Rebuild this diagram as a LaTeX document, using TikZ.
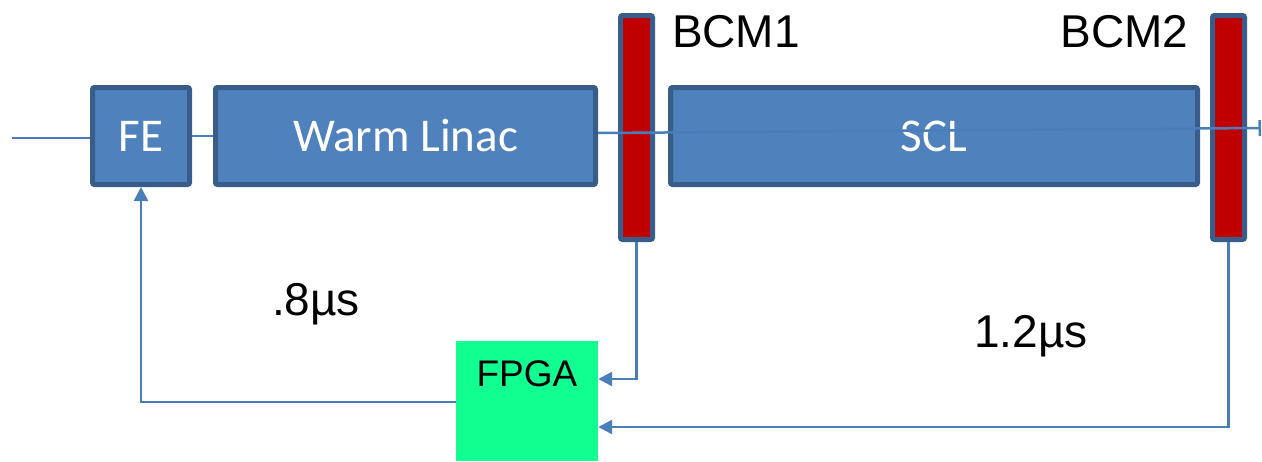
\documentclass[tikz,border=0pt]{standalone}
\usepackage{fontspec}
\setmainfont{Liberation Sans}
\newfontfamily\boxfont{Carlito}
\usetikzlibrary{arrows.meta}

\definecolor{boxfill}{HTML}{4F81BD}
\definecolor{boxedge}{HTML}{385D8A}
\definecolor{monred}{HTML}{C00000}
\definecolor{wirecol}{HTML}{4A7EBB}
\definecolor{fpgagreen}{RGB}{16,255,144}

\begin{document}
\begin{tikzpicture}[x=1pt,y=-1pt,
  section/.style={draw=boxedge, fill=boxfill, line width=5pt, rounded corners=2pt,
    inner sep=0pt, text=white, font=\boxfont\fontsize{47}{50}\selectfont},
  monitor/.style={draw=boxedge, fill=monred, line width=5pt, rounded corners=2pt,
    inner sep=0pt, minimum width=32pt, minimum height=224pt},
  logic/.style={fill=fpgagreen, inner sep=0pt, minimum width=142pt, minimum height=120pt},
  wire/.style={draw=wirecol, line width=2.5pt},
  feed/.style={wire, -{Triangle[length=14pt,width=14pt]}},
  tag/.style={font=\fontsize{46}{50}\selectfont, text=black, inner sep=0pt, anchor=base}
]
\useasboundingbox (0,0) rectangle (1262,461);

% accelerator sections
\node[section, minimum width=97pt, minimum height=97pt] (fe) at (141,136) {FE};
\node[section, minimum width=380pt, minimum height=97pt] (wl) at (405.5,136) {Warm Linac};
\node[section, minimum width=527pt, minimum height=97pt] (scl) at (934,136) {SCL};

% beam current monitors
\node[monitor] (bcm1) at (636.5,127.5) {};
\node[monitor] (bcm2) at (1228.5,127.5) {};
\node[tag] (bcm1lbl) at (736,47) {BCM1};
\node[tag] (bcm2lbl) at (1124.5,47) {BCM2};

% FPGA
\node[logic] (fpga) at (527,401) {};
\node[font=\fontsize{37}{40}\selectfont, inner sep=0pt] (fpgatext) at (527,373.7) {FPGA};

% latency labels
\node[tag] (t1) at (316,315) {.8µs};
\node[tag] (t2) at (1031,347) {1.2µs};

% beam line
\coordinate (beamin) at (12,138);
\coordinate (beamout) at (1261,128);
\draw[wire] (beamin) -- (beamin -| fe.west);
\draw[wire] (fe.east) -- (wl.west);
\draw[wire, -{Bar[width=16pt]}] ([yshift=3pt]wl.east) -- (beamout);

% feedback paths
\draw[feed] (bcm1.south) |- ([yshift=22pt]fpga.east);
\draw[feed] (bcm2.south) |- ([yshift=-26pt]fpga.east);
\draw[feed] ([yshift=-1pt]fpga.west) -| (fe.south);
\end{tikzpicture}
\end{document}
